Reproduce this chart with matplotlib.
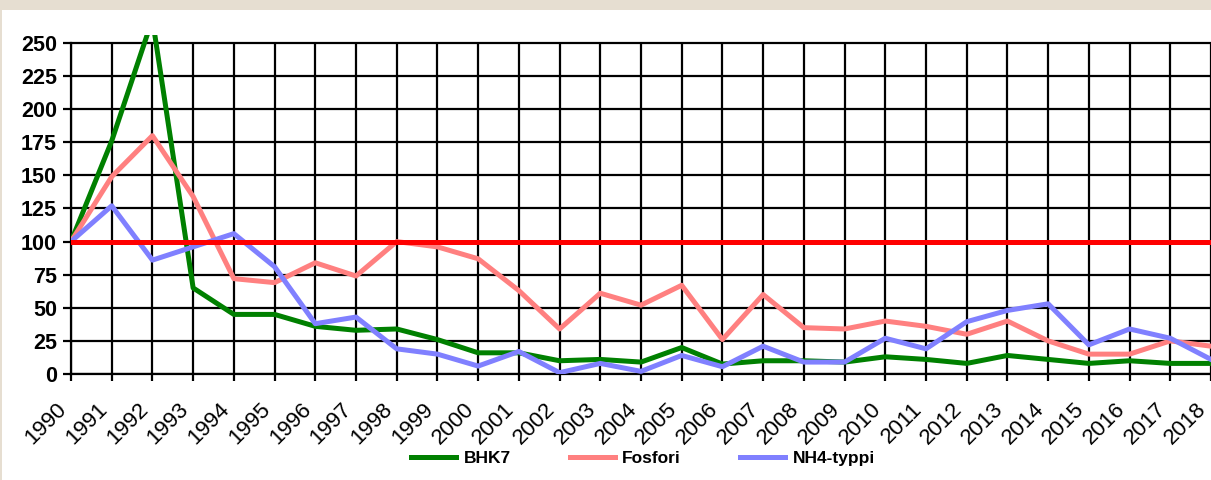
import matplotlib
matplotlib.use("Agg")
import matplotlib.pyplot as plt
from matplotlib.patches import Rectangle

years = list(range(1990, 2019))
bhk7 = [100, 176, 268, 65, 45, 45, 36, 33, 34, 26, 16, 16, 10, 11, 9, 20, 7.5, 10, 10, 9,
        13, 11, 8, 14, 11, 8, 10, 8, 8]
fosfori = [100, 149, 180, 134, 72, 69, 84, 74, 100, 96, 87, 63, 34, 61, 52, 67, 26, 60, 35, 34,
           40, 36, 30, 40, 25, 15, 15, 25, 21]
nh4 = [100, 127, 86, 96, 106, 81, 38, 43, 19, 15, 6, 17, 1, 8, 2, 14, 5.5, 21, 9, 9,
       27, 19, 39.5, 48, 53, 22, 34, 27, 11]
reference = [100] * len(years)
yticks = [0, 25, 50, 75, 100, 125, 150, 175, 200, 225, 250]
series_names = ["BHK7", "Fosfori", "NH4-typpi"]

W, H = 1211, 480
fig = plt.figure(figsize=(W / 100, H / 100), dpi=100)
fig.patch.set_facecolor("#E6DED1")
fig.patches.append(Rectangle((2 / W, 0), 1, 1 - 10 / H, transform=fig.transFigure,
                             facecolor="white", edgecolor="none", zorder=-5))

ax = fig.add_axes([71 / W, 106 / H, 1 - 71 / W, 339 / H])
ax.set_facecolor("none")
ax.set_xlim(1990, 1990 + (W - 71) / 40.87)
ax.set_ylim(0, 256)

ax.set_yticks(yticks)
ax.yaxis.grid(True, color="black", lw=1.6, zorder=1)
ax.vlines(years, 0, 250, color="black", lw=1.6, zorder=1)

for s in ["top", "right"]:
    ax.spines[s].set_visible(False)
ax.spines["left"].set_bounds(0, 250)
ax.spines["left"].set_linewidth(1.6)
ax.spines["bottom"].set_linewidth(1.6)

ax.plot(years, bhk7, color="#008000", lw=3.6, zorder=3, label=series_names[0])
ax.plot(years, fosfori, color="#FF8080", lw=3.6, zorder=4, label=series_names[1])
ax.plot(years, nh4, color="#8080FF", lw=3.6, zorder=5, label=series_names[2])
ax.plot(years, reference, color="#FF0000", lw=3.6, zorder=6)

ax.set_xticks(years)
ax.set_xticklabels([str(y) for y in years], rotation=45, ha="right", va="top",
                   fontsize=16, family="Liberation Sans")
ax.tick_params(axis="x", length=5, width=1.6, pad=13, direction="out")
ax.tick_params(axis="y", length=6, width=1.6, pad=4, direction="out")
for lab in ax.get_yticklabels():
    lab.set_fontsize(15.5)
    lab.set_fontweight("bold")
    lab.set_family("Liberation Sans")

leg = fig.legend(loc="center", bbox_to_anchor=(643 / W, 22 / H), ncol=3, frameon=False,
                 prop={"family": "Liberation Sans", "weight": "bold", "size": 12.5},
                 handlelength=2.6, handletextpad=0.42, columnspacing=3.4)

fig.savefig("out.png", dpi=100, facecolor=fig.get_facecolor())
